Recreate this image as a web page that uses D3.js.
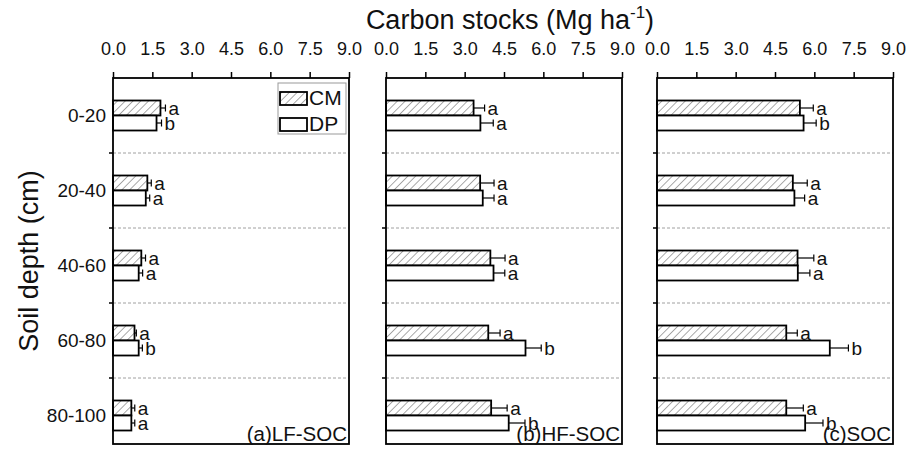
<!DOCTYPE html>
<html>
<head>
<meta charset="utf-8">
<script src="https://cdnjs.cloudflare.com/ajax/libs/d3/7.8.5/d3.min.js"></script>
<style>
  body { margin: 0; background: #fff; }
  svg { display: block; font-family: "Liberation Sans", Arial, sans-serif; }
</style>
</head>
<body>
<div id="chart"></div>
<script>
var depths = ["0-20", "20-40", "40-60", "60-80", "80-100"];
var xTicks = [0, 1.5, 3.0, 4.5, 6.0, 7.5, 9.0];
var seriesNames = ["CM", "DP"];

var lfCM = [1.81, 1.31, 1.08, 0.82, 0.70];
var lfCMErr = [0.19, 0.15, 0.16, 0.07, 0.13];
var lfDP = [1.66, 1.25, 0.98, 0.98, 0.70];
var lfDPErr = [0.19, 0.15, 0.15, 0.14, 0.13];
var lfCMSig = ["a", "a", "a", "a", "a"];
var lfDPSig = ["b", "a", "a", "b", "a"];

var hfCM = [3.34, 3.59, 3.98, 3.90, 4.01];
var hfCMErr = [0.42, 0.53, 0.56, 0.45, 0.61];
var hfDP = [3.60, 3.69, 4.10, 5.32, 4.68];
var hfDPErr = [0.49, 0.43, 0.43, 0.60, 0.62];
var hfCMSig = ["a", "a", "a", "a", "a"];
var hfDPSig = ["a", "a", "a", "b", "b"];

var socCM = [5.45, 5.18, 5.36, 4.93, 4.93];
var socCMErr = [0.51, 0.55, 0.62, 0.42, 0.65];
var socDP = [5.59, 5.24, 5.37, 6.59, 5.65];
var socDPErr = [0.48, 0.39, 0.46, 0.71, 0.68];
var socCMSig = ["a", "a", "a", "a", "a"];
var socDPSig = ["b", "a", "a", "b", "b"];

var panels = [
  { label: "(a)LF-SOC", x0: 113, cm: lfCM, cmErr: lfCMErr, dp: lfDP, dpErr: lfDPErr, cmSig: lfCMSig, dpSig: lfDPSig, legend: true },
  { label: "(b)HF-SOC", x0: 386, cm: hfCM, cmErr: hfCMErr, dp: hfDP, dpErr: hfDPErr, cmSig: hfCMSig, dpSig: hfDPSig },
  { label: "(c)SOC", x0: 657, cm: socCM, cmErr: socCMErr, dp: socDP, dpErr: socDPErr, cmSig: socCMSig, dpSig: socDPSig }
];

var W = 907, H = 456;
var panelW = 236;
var plotTop = 78, plotBottom = 444;
var barH = 15;

var svg = d3.select("#chart").append("svg")
  .attr("width", W)
  .attr("height", H);

var defs = svg.append("defs");
defs.append("pattern")
  .attr("id", "hatch")
  .attr("patternUnits", "userSpaceOnUse")
  .attr("width", 5.5)
  .attr("height", 5.5)
  .attr("patternTransform", "rotate(45)")
  .append("line")
  .attr("x1", 0).attr("y1", 0)
  .attr("x2", 0).attr("y2", 5.5)
  .attr("stroke", "#555")
  .attr("stroke-width", 1);

// y: category index -> position, top edge at -0.5
var y = d3.scaleLinear()
  .domain([-0.5, 4.38])
  .range([plotTop, plotBottom]);

panels.forEach(function (p) {
  var x = d3.scaleLinear().domain([0, 9]).range([p.x0, p.x0 + panelW]);
  var g = svg.append("g");

  // dashed separators
  g.selectAll("line.sep")
    .data(d3.range(1, depths.length))
    .enter()
    .append("line")
    .attr("x1", x(0)).attr("x2", x(9))
    .attr("y1", function (d) { return y(d - 0.5); })
    .attr("y2", function (d) { return y(d - 0.5); })
    .attr("stroke", "#888")
    .attr("stroke-width", 0.8)
    .attr("stroke-dasharray", "3,2");

  var rows = [];
  depths.forEach(function (d, i) {
    rows.push({ i: i, v: p.cm[i], e: p.cmErr[i], s: p.cmSig[i], off: -barH, fill: "url(#hatch)" });
    rows.push({ i: i, v: p.dp[i], e: p.dpErr[i], s: p.dpSig[i], off: 0, fill: "#fff" });
  });

  g.selectAll("rect.bar")
    .data(rows)
    .enter()
    .append("rect")
    .attr("x", x(0))
    .attr("y", function (d) { return y(d.i) + d.off; })
    .attr("width", function (d) { return x(d.v) - x(0); })
    .attr("height", barH)
    .attr("fill", function (d) { return d.fill; })
    .attr("stroke", "#000")
    .attr("stroke-width", 1.8);

  // error bars
  g.selectAll("line.err")
    .data(rows)
    .enter()
    .append("line")
    .attr("x1", function (d) { return x(d.v); })
    .attr("x2", function (d) { return x(d.v + d.e); })
    .attr("y1", function (d) { return y(d.i) + d.off + barH / 2; })
    .attr("y2", function (d) { return y(d.i) + d.off + barH / 2; })
    .attr("stroke", "#000")
    .attr("stroke-width", 1.2);

  g.selectAll("line.cap")
    .data(rows)
    .enter()
    .append("line")
    .attr("x1", function (d) { return x(d.v + d.e); })
    .attr("x2", function (d) { return x(d.v + d.e); })
    .attr("y1", function (d) { return y(d.i) + d.off + barH / 2 - 3.5; })
    .attr("y2", function (d) { return y(d.i) + d.off + barH / 2 + 3.5; })
    .attr("stroke", "#000")
    .attr("stroke-width", 1.2);

  g.selectAll("text.sig")
    .data(rows)
    .enter()
    .append("text")
    .attr("x", function (d) { return x(d.v + d.e) + 3; })
    .attr("y", function (d) { return y(d.i) + d.off + barH / 2 + 6.5; })
    .attr("font-size", 19)
    .attr("fill", "#111")
    .text(function (d) { return d.s; });

  // frame
  g.append("rect")
    .attr("x", x(0)).attr("y", plotTop)
    .attr("width", panelW).attr("height", plotBottom - plotTop)
    .attr("fill", "none")
    .attr("stroke", "#000")
    .attr("stroke-width", 1.8);

  // top axis
  var xAxis = d3.axisTop(x)
    .tickValues(xTicks)
    .tickFormat(d3.format(".1f"))
    .tickSize(6)
    .tickPadding(17);
  var ax = g.append("g")
    .attr("transform", "translate(0," + plotTop + ")")
    .call(xAxis);
  ax.select(".domain").remove();
  ax.selectAll(".tick line").attr("stroke", "#000").attr("stroke-width", 1.5);
  ax.selectAll(".tick text")
    .attr("font-size", 18)
    .attr("font-family", "Liberation Sans, Arial, sans-serif")
    .attr("fill", "#111");

  // left ticks at separators
  g.selectAll("line.ytick")
    .data(d3.range(1, depths.length))
    .enter()
    .append("line")
    .attr("x1", x(0) - 4).attr("x2", x(0))
    .attr("y1", function (d) { return y(d - 0.5); })
    .attr("y2", function (d) { return y(d - 0.5); })
    .attr("stroke", "#000")
    .attr("stroke-width", 1.5);

  g.append("text")
    .attr("x", x(9) - 2)
    .attr("y", plotBottom - 3)
    .attr("text-anchor", "end")
    .attr("font-size", 20.5)
    .attr("fill", "#111")
    .text(p.label);

  if (p.legend) {
    var lx = 278, ly = 83;
    var lg = g.append("g");
    lg.append("rect")
      .attr("x", lx).attr("y", ly)
      .attr("width", 68).attr("height", 51)
      .attr("fill", "#fff")
      .attr("stroke", "#999")
      .attr("stroke-width", 1);
    seriesNames.forEach(function (name, k) {
      lg.append("rect")
        .attr("x", lx + 2).attr("y", ly + 9 + k * 26)
        .attr("width", 27).attr("height", 13)
        .attr("fill", k === 0 ? "url(#hatch)" : "#fff")
        .attr("stroke", "#000")
        .attr("stroke-width", 1.8);
      lg.append("text")
        .attr("x", lx + 31).attr("y", ly + 22 + k * 26)
        .attr("font-size", 21)
        .attr("fill", "#111")
        .text(name);
    });
  }
});

// y category labels
svg.selectAll("text.depth")
  .data(depths)
  .enter()
  .append("text")
  .attr("x", 106)
  .attr("y", function (d, i) { return y(i) + 6.5; })
  .attr("text-anchor", "end")
  .attr("font-size", 19)
  .attr("fill", "#111")
  .text(function (d) { return d; });

// titles
var title = svg.append("text")
  .attr("x", 510)
  .attr("y", 29)
  .attr("text-anchor", "middle")
  .attr("font-size", 27)
  .attr("fill", "#111");
title.append("tspan").text("Carbon stocks (Mg ha");
title.append("tspan").attr("font-size", 17).attr("dy", -11).text("-1");
title.append("tspan").attr("dy", 11).text(")");

svg.append("text")
  .attr("transform", "translate(38," + ((plotTop + plotBottom) / 2) + ") rotate(-90)")
  .attr("text-anchor", "middle")
  .attr("font-size", 27)
  .attr("fill", "#111")
  .text("Soil depth (cm)");
</script>
</body>
</html>
